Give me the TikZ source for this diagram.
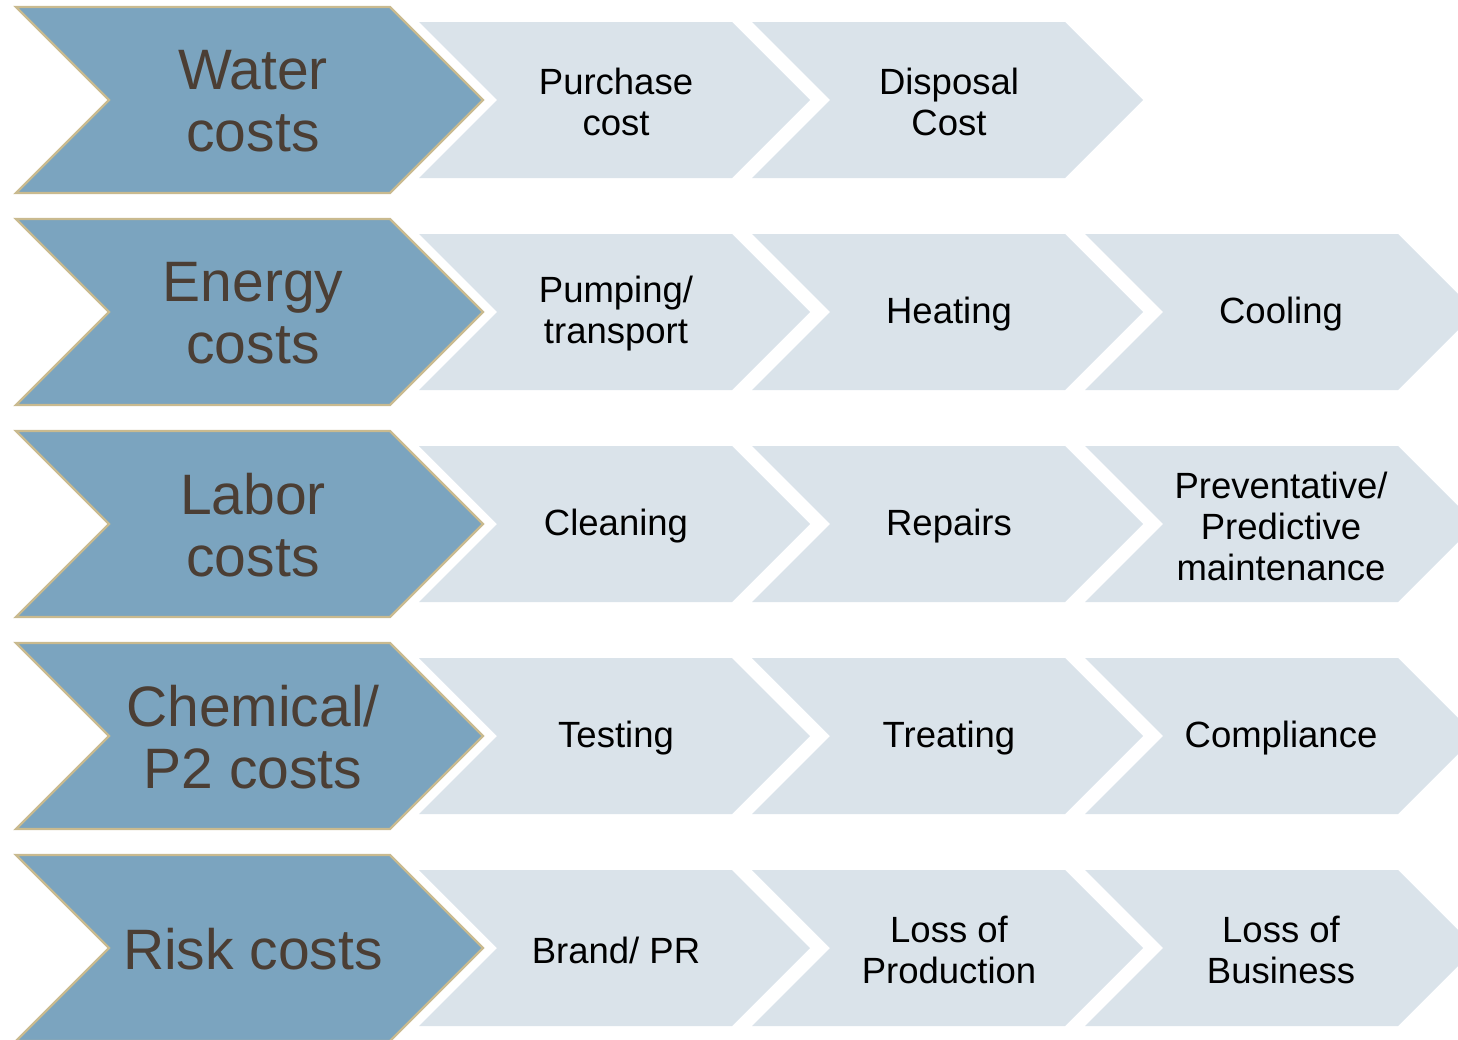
\documentclass[tikz,border=0pt]{standalone}
\usepackage{fontspec}
\setmainfont{Liberation Sans}
\definecolor{bigfill}{RGB}{123,164,191}
\definecolor{smallfill}{RGB}{218,227,234}
\definecolor{tanline}{RGB}{201,186,143}
\definecolor{bigtext}{RGB}{75,62,52}
\tikzset{
  bigchev/.style={fill=bigfill, draw=tanline, line width=2.4pt, line join=miter},
  smallchev/.style={fill=smallfill},
  bigtxt/.style={text=bigtext, align=center, font=\fontsize{57}{62}\selectfont, inner sep=0pt},
  smalltxt/.style={text=black, align=center, font=\fontsize{36.5}{41}\selectfont, inner sep=0pt}
}
\begin{document}
\begin{tikzpicture}[x=1pt,y=-1pt]
\useasboundingbox (0,0) rectangle (1458,1039);
\clip (0,0) rectangle (1458,1039);
\foreach \r/\big/\a/\b/\c [count=\i from 0] in {
  1/{Water\\costs}/{Purchase\\cost}/{Disposal\\Cost}/{},
  2/{Energy\\costs}/{Pumping/\\transport}/{Heating}/{Cooling},
  3/{Labor\\costs}/{Cleaning}/{Repairs}/{Preventative/\\Predictive\\maintenance},
  4/{Chemical/\\P2 costs}/{Testing}/{Treating}/{Compliance},
  5/{Risk costs}/{Brand/ PR}/{Loss of\\Production}/{Loss of\\Business}} {
  \pgfmathsetmacro{\cy}{100+212*\i}
  % big chevron
  \draw[bigchev] (16,\cy-93) -- (390,\cy-93) -- (483,\cy) -- (390,\cy+93) -- (16,\cy+93) -- (109,\cy) -- cycle;
  \node[bigtxt] (big\r) at (253,\cy+1) {\big};
  % small chevrons
  \foreach \L/\t/\k in {419/\a/a,752/\b/b} {
    \fill[smallchev] (\L,\cy-78) -- (\L+313,\cy-78) -- (\L+391,\cy) -- (\L+313,\cy+78) -- (\L,\cy+78) -- (\L+78,\cy) -- cycle;
    \node[smalltxt] (s\r\k) at (\L+197,\cy+2) {\t};
  }
  \ifnum\r>1
    \fill[smallchev] (1085,\cy-78) -- (1398,\cy-78) -- (1476,\cy) -- (1398,\cy+78) -- (1085,\cy+78) -- (1163,\cy) -- cycle;
    \node[smalltxt] (s\r c) at (1281,\cy+2) {\c};
  \fi
}
\end{tikzpicture}
\end{document}
